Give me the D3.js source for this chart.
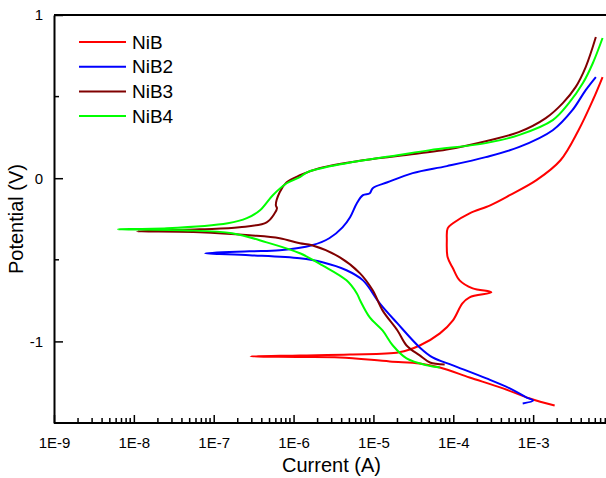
<!DOCTYPE html>
<html>
<head>
<meta charset="utf-8">
<script src="https://cdn.jsdelivr.net/npm/d3@7"></script>
<style>
  body { margin: 0; background: #fff; }
  svg { display: block; overflow: hidden; font-family: Arial, 'Liberation Sans', sans-serif; }
</style>
</head>
<body>
<svg id="tafelsvg" width="606" height="478"></svg>
<script>
// polarization curves, [current (A), potential (V)]
var seriesNames = ['NiB', 'NiB2', 'NiB3', 'NiB4'];
var seriesColors = ['#ff0000', '#0000ff', '#800000', '#00ff00'];

var nib = [
  [1.86e-3, -1.393], [9.1e-4, -1.350], [4.2e-4, -1.288], [1.6e-4, -1.221],
  [6.8e-5, -1.160], [3.8e-5, -1.135], [1.6e-5, -1.123], [3.8e-6, -1.098],
  [1.2e-6, -1.095], [2.9e-7, -1.092], [1.2e-6, -1.086], [5.1e-6, -1.080],
  [2.1e-5, -1.067], [3.8e-5, -1.025], [6.8e-5, -0.951], [9.9e-5, -0.871],
  [1.3e-4, -0.767], [1.6e-4, -0.730], [3.0e-4, -0.699], [1.75e-4, -0.675],
  [1.2e-4, -0.626], [9.9e-5, -0.552], [8.5e-5, -0.485], [8.3e-5, -0.380],
  [8.5e-5, -0.307], [9.9e-5, -0.276], [1.6e-4, -0.215], [2.9e-4, -0.166],
  [5.1e-4, -0.104], [1.1e-3, -0.012], [2.2e-3, 0.110], [3.7e-3, 0.294],
  [5.6e-3, 0.479], [7.4e-3, 0.620]
];
var nib2 = [
  [7.4e-4, -1.380], [1.0e-3, -1.362], [8.3e-4, -1.344], [5.1e-4, -1.288],
  [2.6e-4, -1.227], [9.9e-5, -1.147], [5.5e-5, -1.098], [3.8e-5, -1.037],
  [2.0e-5, -0.890], [1.2e-5, -0.767], [7.4e-6, -0.626], [4.6e-6, -0.564],
  [2.3e-6, -0.515], [1.2e-6, -0.491], [2.8e-7, -0.472], [7.8e-8, -0.460],
  [2.8e-7, -0.448], [6.7e-7, -0.442], [1.7e-6, -0.411], [2.8e-6, -0.368],
  [4.1e-6, -0.301], [5.1e-6, -0.239], [6.2e-6, -0.153], [7.4e-6, -0.104],
  [9.0e-6, -0.092], [9.8e-6, -0.061], [1.5e-5, -0.025], [3.1e-5, 0.031],
  [8.3e-5, 0.074], [2.55e-4, 0.129], [6.6e-4, 0.190], [1.76e-3, 0.294],
  [3.1e-3, 0.417], [4.55e-3, 0.540], [6.1e-3, 0.620]
];
var nib3 = [
  [7.8e-5, -1.141], [5.1e-5, -1.129], [3.8e-5, -1.086], [2.6e-5, -1.025],
  [2.0e-5, -0.933], [1.3e-5, -0.810], [9.8e-6, -0.687], [6.8e-6, -0.583],
  [3.8e-6, -0.485], [1.7e-6, -0.411], [1.2e-6, -0.399], [6.7e-7, -0.368],
  [2.8e-7, -0.350], [6.7e-8, -0.331], [1.1e-8, -0.325], [6.7e-8, -0.313],
  [2.1e-7, -0.301], [4.6e-7, -0.270], [5.8e-7, -0.215], [6.2e-7, -0.184],
  [6.0e-7, -0.166], [6.7e-7, -0.086], [8.2e-7, -0.025], [1.2e-6, 0.018],
  [2.1e-6, 0.061], [7.4e-6, 0.110], [3.8e-5, 0.153], [8.3e-5, 0.176],
  [2.55e-4, 0.227], [6.6e-4, 0.282], [1.44e-3, 0.368], [2.35e-3, 0.460],
  [3.4e-3, 0.558], [4.55e-3, 0.681], [6.1e-3, 0.865]
];
var nib4 = [
  [6.8e-5, -1.160], [4.7e-5, -1.147], [2.6e-5, -1.104], [1.75e-5, -1.025],
  [1.3e-5, -0.933], [9.0e-6, -0.853], [6.8e-6, -0.748], [6.2e-6, -0.706],
  [4.6e-6, -0.626], [2.3e-6, -0.534], [1.2e-6, -0.460], [4.6e-7, -0.393],
  [1.7e-7, -0.337], [4.1e-8, -0.319], [6.3e-9, -0.313], [2.6e-8, -0.307],
  [1.5e-7, -0.276], [2.6e-7, -0.245], [3.8e-7, -0.196], [5.5e-7, -0.104],
  [8.2e-7, -0.031], [1.2e-6, 0.006], [1.5e-6, 0.037], [4.6e-6, 0.092],
  [2.0e-5, 0.141], [5.1e-5, 0.172], [2.55e-4, 0.215], [6.6e-4, 0.264],
  [1.76e-3, 0.356], [2.8e-3, 0.460], [4.2e-3, 0.583], [5.6e-3, 0.706],
  [7.4e-3, 0.859]
];
var allSeries = [nib, nib2, nib3, nib4];

var xMajorTicks = [1e-9, 1e-8, 1e-7, 1e-6, 1e-5, 1e-4, 1e-3];
var xTickLabels = ['1E-9', '1E-8', '1E-7', '1E-6', '1E-5', '1E-4', '1E-3'];
var yMajorTicks = [-1, 0, 1];
var yTickLabels = ['-1', '0', '1'];
var yMinorTicks = [-0.5, 0.5];

var svg = d3.select('#tafelsvg');
const margin = {top: 15, left: 54, bottom: 55};
const innerWidth = 559;   // scale runs to 1E-2, just past the right edge of the picture
const visibleWidth = +svg.attr('width') - margin.left;
const innerHeight = +svg.attr('height') - margin.top - margin.bottom;

var g = svg.append('g')
    .attr('transform', `translate(${margin.left}, ${margin.top})`);

var x = d3.scaleLog()
    .domain([1e-9, 1e-2])
    .range([0, innerWidth]);
var y = d3.scaleLinear()
    .domain([-1.5, 1])
    .range([innerHeight, 0]);

// minor log ticks 2..9 in every decade, only the ones inside the picture
var xMinor = [];
d3.range(-9, -2).forEach(function(e) {
    d3.range(2, 10).forEach(function(m) { xMinor.push(m * Math.pow(10, e)); });
});
xMinor = xMinor.filter(d => x(d) < visibleWidth);

var xAxis = g.append('g')
    .attr('transform', `translate(0, ${innerHeight})`)
    .call(d3.axisBottom(x).tickValues(xMajorTicks)
        .tickSize(-8).tickPadding(14)
        .tickFormat(function(d, i) { return xTickLabels[i]; }));
xAxis.select('.domain').attr('d', `M0,0H${visibleWidth}`);
xAxis.append('g').selectAll('line')
    .data(xMinor)
    .enter().append('line')
        .attr('x1', d => x(d)).attr('x2', d => x(d))
        .attr('y1', 0).attr('y2', -5)
        .attr('stroke', '#000').attr('stroke-width', 1.5);

var yAxis = g.append('g')
    .call(d3.axisLeft(y).tickValues(yMajorTicks)
        .tickSize(-9).tickSizeOuter(0).tickPadding(11)
        .tickFormat(function(d, i) { return yTickLabels[i]; }));
yAxis.append('g').selectAll('line')
    .data(yMinorTicks)
    .enter().append('line')
        .attr('x1', 0).attr('x2', 5)
        .attr('y1', d => y(d)).attr('y2', d => y(d))
        .attr('stroke', '#000').attr('stroke-width', 1.5);

g.selectAll('.domain').attr('stroke', '#000').attr('stroke-width', 2);
g.selectAll('.tick line').attr('stroke', '#000').attr('stroke-width', 1.5);
g.selectAll('.tick text').attr('font-size', 15).attr('fill', '#000')
    .attr('font-family', 'Arial, Liberation Sans, sans-serif');

// top frame line
g.append('line')
    .attr('x1', 0).attr('x2', visibleWidth)
    .attr('y1', 0).attr('y2', 0)
    .attr('stroke', '#000').attr('stroke-width', 2);

var line = d3.line()
    .x(d => x(d[0]))
    .y(d => y(d[1]))
    .curve(d3.curveCatmullRom.alpha(0.5));

g.append('g').selectAll('path')
    .data(allSeries)
    .enter().append('path')
        .attr('d', line)
        .attr('fill', 'none')
        .attr('stroke', (d, i) => seriesColors[i])
        .attr('stroke-width', 2)
        .attr('stroke-linejoin', 'round');

// axis titles
svg.append('text')
    .attr('x', margin.left + innerWidth / 2 - 2)
    .attr('y', 472)
    .attr('text-anchor', 'middle')
    .attr('font-size', 20)
    .text('Current (A)');
svg.append('text')
    .attr('transform', `translate(23, ${margin.top + innerHeight / 2}) rotate(-90)`)
    .attr('text-anchor', 'middle')
    .attr('font-size', 20)
    .text('Potential (V)');

var legend = svg.selectAll('.legendRow').data(seriesNames)
    .enter().append('g')
    .attr('class', 'legendRow')
    .attr('transform', function(d, i) { return 'translate(79,' + (42 + i * 24.7) + ')'; });
legend.append('line')
    .attr('x1', 0).attr('x2', 47)
    .attr('stroke', (d, i) => seriesColors[i])
    .attr('stroke-width', 2);
legend.append('text')
    .attr('x', 53).attr('y', 6.5)
    .attr('font-size', 19)
    .text(d => d);
</script>
</body>
</html>
